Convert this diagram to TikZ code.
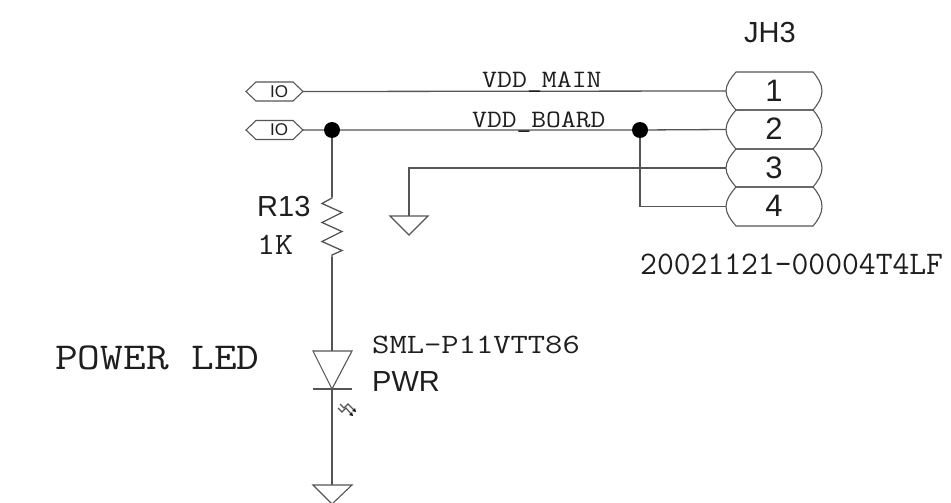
\documentclass[tikz,border=0pt]{standalone}
\usepackage{fontspec}
\setmainfont{Liberation Sans}
\setmonofont{Latin Modern Mono}
\definecolor{wire}{RGB}{85,85,85}
\definecolor{ink}{RGB}{30,30,30}
\newcommand{\mtxt}[3]{\scalebox{#2}[1]{\ttfamily\fontsize{#1}{#1}\selectfont #3}}
\tikzset{
 wire/.style={draw=wire,line width=1.3pt,line join=miter},
 thinwire/.style={draw=wire,line width=1.1pt},
 junction/.style={circle,fill=black,draw=none,minimum size=16pt,inner sep=0pt},
 txt/.style={inner sep=0pt,text=ink,anchor=base west},
 pin/.style={inner sep=0pt,text=ink,anchor=center,font=\fontsize{31}{31}\selectfont},
 sans/.style={txt,font=\fontsize{29}{29}\selectfont},
}
\begin{document}
\begin{tikzpicture}[x=1pt,y=-1pt]
\useasboundingbox (0,0) rectangle (951,503);
% ports
\foreach \n/\y in {a/91.5,b/130}{
 \draw[thinwire] (246,\y) -- (256,\y-9.5) -- (293,\y-9.5) -- (303,\y) -- (293,\y+9.5) -- (256,\y+9.5) -- cycle;
 \node[inner sep=0pt,text=ink,font=\fontsize{17}{17}\selectfont] at (279,\y) {IO};
 \coordinate (port\n) at (303,\y);
}
% connector
\foreach \n/\t/\b in {1/72/110,2/110/149,3/149/187,4/187/226}{
 \draw[thinwire] (736,\t) -- (813,\t) .. controls (818,\t+6) and (822,\t+12) .. (822,{(\t+\b)/2})
   .. controls (822,\b-12) and (818,\b-6) .. (813,\b) -- (736,\b)
   .. controls (731,\b-6) and (726,\b-12) .. (726,{(\t+\b)/2})
   .. controls (726,\t+12) and (731,\t+6) .. (736,\t) -- cycle;
 \node[pin] (p\n) at (774,{(\t+\b)/2-0.5}) {\n};
 \coordinate (c\n) at (726,{(\t+\b)/2});
}
% junctions
\node[junction] (j1) at (332,130) {};
\node[junction] (j2) at (640,130) {};
\coordinate (g1) at (409,216);
\coordinate (rt) at (332,197);
\coordinate (rb) at (332,257);
\coordinate (lt) at (332,351);
\coordinate (lb) at (332,389);
\coordinate (g2) at (332,485);
% wires
\draw[wire] (porta) -- (c1);
\draw[wire] (portb) -- (j1) -- (j2) -- (c2);
\draw[wire] (c3) -- (409,168) -- (g1);
\draw[wire] (j2) |- (c4);
\draw[wire] (j1) -- (rt);
\draw[wire] (rt) -- (332,198) -- (322,203.5) -- (342,212.5) -- (322,222.5) -- (342,231.5) -- (322,241.5) -- (342,250.5) -- (332,255) -- (rb);
\draw[wire] (rb) -- (lt);
\draw[wire] (lb) -- (g2);
% grounds & LED
\draw[thinwire] (390,216) -- (428,216) -- (409,235) -- cycle;
\draw[thinwire] (313,485) -- (352,485) -- (332,504) -- cycle;
\draw[thinwire] (313,351) -- (352,351) -- (lb) -- cycle;
\draw[thinwire] (313,389) -- (352,389);
% light arrows
\draw[wire,line width=1.2pt] (340,404) -- (344,408) -- (348,404) -- (355,411);
\draw[wire,line width=1.2pt] (338,408) -- (342,412) -- (346,408) -- (352,415);
\fill[ink] (356,412) -- (352,411) -- (355,408) -- cycle;
\fill[ink] (353,416) -- (349,415) -- (352,412) -- cycle;
% text
\node[txt] (t1) at (482,88) {\mtxt{25}{1.16}{VDD\_MAIN}};
\node[txt] (t2) at (472,127) {\mtxt{25}{1.15}{VDD\_BOARD}};
\node[sans] (jh) at (744,43) {JH3};
\node[txt] (pn) at (640,274) {\mtxt{33}{0.99}{20021121-00004T4LF}};
\node[sans] (r) at (257,216) {R13};
\node[txt] (rv) at (257,254) {\mtxt{31}{1.13}{1K}};
\node[txt] (pl) at (55,369) {\mtxt{38}{1.16}{POWER LED}};
\node[txt] (sml) at (372,353) {\mtxt{28}{1.2}{SML-P11VTT86}};
\node[sans] (pw) at (372,391) {PWR};
\end{tikzpicture}
\end{document}
